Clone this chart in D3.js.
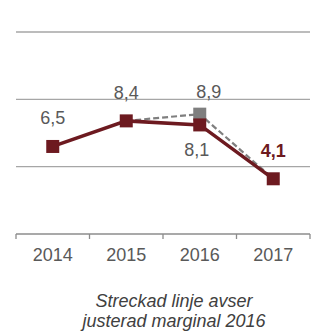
<!DOCTYPE html>
<html lang="sv">
<head>
<meta charset="UTF-8">
<title>Marginal</title>
<script src="https://d3js.org/d3.v7.min.js"></script>
<style>
    body { margin: 0; background: #fff; }
    text { font-family: "Liberation Sans", Arial, sans-serif; }
</style>
</head>
<body>
<div id="chart"></div>
<script>
// chart data
var years = ["2014", "2015", "2016", "2017"];
var margin = [6.5, 8.4, 8.1, 4.1];
var adjYears = ["2015", "2016", "2017"];
var adjMargin = [8.4, 8.9, 4.1];
var labelText = ["6,5", "8,4", "8,1", "4,1"];
var adjLabelText = ["8,9"];
var yTicks = [5, 10, 15];
var caption = ["Streckad linje avser", "justerad marginal 2016"];

var width = 311, height = 331;
var red = "#6d1a20", grey = "#7f7f7f", textGrey = "#595959";

var svg = d3.select("#chart").append("svg")
    .attr("width", width)
    .attr("height", height);

var x = d3.scaleBand()
    .domain(years)
    .range([16, 310]);

var y = d3.scaleLinear()
    .domain([0, 15])
    .range([234, 32]);

function cx(d) { return x(d) + x.bandwidth() / 2; }

// gridlines
svg.selectAll(".grid")
    .data(yTicks)
    .enter().append("line")
    .attr("x1", 16)
    .attr("x2", 310)
    .attr("y1", function(d){ return y(d); })
    .attr("y2", function(d){ return y(d); })
    .attr("stroke", "#a6a6a6")
    .attr("stroke-width", 1.3);

// x axis
var xAxis = d3.axisBottom(x).tickSize(0).tickPadding(14);
var gx = svg.append("g")
    .attr("transform", "translate(0," + y(0) + ")")
    .call(xAxis);
gx.select(".domain").remove();
gx.append("line")
    .attr("x1", 16).attr("x2", 310)
    .attr("stroke", "#8c8c8c").attr("stroke-width", 1.3);
// tick marks on band edges
var edges = years.map(function(d){ return x(d); }).concat([x.range()[1]]);
gx.selectAll(".edge")
    .data(edges)
    .enter().append("line")
    .attr("x1", function(d){ return d; })
    .attr("x2", function(d){ return d; })
    .attr("y1", 0).attr("y2", 5)
    .attr("stroke", "#8c8c8c").attr("stroke-width", 1.3);
gx.selectAll(".tick text")
    .attr("font-family", "Liberation Sans, Arial, sans-serif")
    .attr("font-size", "18px")
    .attr("fill", textGrey);

// dashed adjusted line
var line = d3.line()
    .x(function(d){ return cx(d[0]); })
    .y(function(d){ return y(d[1]); });

svg.append("path")
    .datum(d3.zip(adjYears, adjMargin))
    .attr("d", line)
    .attr("fill", "none")
    .attr("stroke", grey)
    .attr("stroke-width", 2.2)
    .attr("stroke-dasharray", "6,3");

// adjusted marker
svg.append("rect")
    .attr("x", cx("2016") - 6.5)
    .attr("y", y(8.9) - 6.5)
    .attr("width", 13)
    .attr("height", 13)
    .attr("fill", grey);

// main line
svg.append("path")
    .datum(d3.zip(years, margin))
    .attr("d", line)
    .attr("fill", "none")
    .attr("stroke", red)
    .attr("stroke-width", 3.5);

svg.selectAll(".pt")
    .data(d3.zip(years, margin))
    .enter().append("rect")
    .attr("x", function(d){ return cx(d[0]) - 6.5; })
    .attr("y", function(d){ return y(d[1]) - 6.5; })
    .attr("width", 13)
    .attr("height", 13)
    .attr("fill", red);

// value labels
var offsets = [-22, -22, 31, -22];
var dx = [0, 0, -3, 0];
svg.selectAll(".lbl")
    .data(d3.zip(years, margin, labelText))
    .enter().append("text")
    .attr("x", function(d, i){ return cx(d[0]) + dx[i]; })
    .attr("y", function(d, i){ return y(d[1]) + offsets[i]; })
    .attr("text-anchor", "middle")
    .attr("font-size", "18px")
    .attr("font-weight", function(d, i){ return i === 3 ? "bold" : "normal"; })
    .attr("fill", function(d, i){ return i === 3 ? red : textGrey; })
    .text(function(d){ return d[2]; });

svg.append("text")
    .attr("x", cx("2016") + 9)
    .attr("y", y(8.9) - 16)
    .attr("text-anchor", "middle")
    .attr("font-size", "18px")
    .attr("fill", textGrey)
    .text(adjLabelText[0]);

// caption
svg.selectAll(".cap")
    .data(caption)
    .enter().append("text")
    .attr("x", 174)
    .attr("y", function(d, i){ return 306.5 + i * 20; })
    .attr("text-anchor", "middle")
    .attr("font-size", "18px")
    .attr("font-style", "italic")
    .attr("fill", "#404040")
    .text(function(d){ return d; });
</script>
</body>
</html>
